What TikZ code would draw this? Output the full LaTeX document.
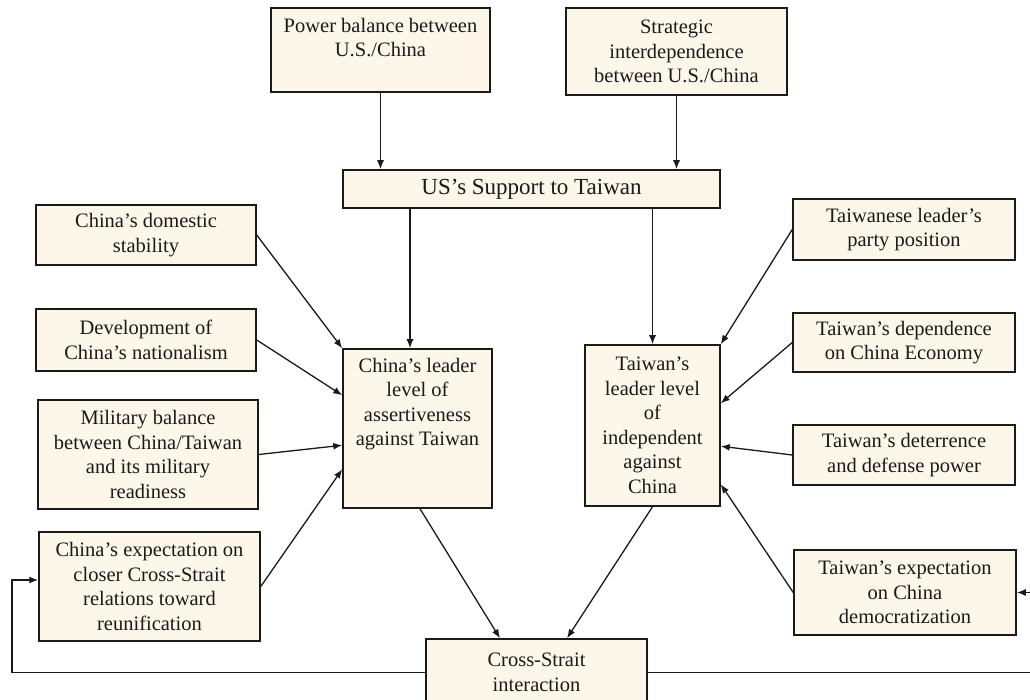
\documentclass[tikz,border=0pt]{standalone}
\usepackage{fontspec}
\setmainfont{Liberation Serif}
\usetikzlibrary{arrows.meta,calc}
\definecolor{boxfill}{HTML}{FDF7E9}
\definecolor{ink}{HTML}{1A1A1A}
\begin{document}
\begin{tikzpicture}[x=1pt,y=-1pt,
  bx/.style={draw=ink, line width=1.5pt, fill=boxfill, inner sep=0pt, align=center, text=ink,
             font=\fontsize{20.5}{24.5}\selectfont},
  arr/.style={draw=ink, line width=1.3pt, -{Latex[length=9pt,width=7pt]}},
  ln/.style={draw=ink, line width=1.3pt}]
\useasboundingbox (0,0) rectangle (1030,700);
\clip (0,0) rectangle (1030,700);
\fill[white] (0,0) rectangle (1030,700);

% top boxes
\node[bx, minimum width=219pt, minimum height=84pt] (pb) at (380.5,50)
  {\parbox[c][84pt][t]{219pt}{\vspace*{10pt}\centering Power balance between\\U.S./China}};
\node[bx, minimum width=221pt, minimum height=87pt] (si) at (676.5,51.5)
  {Strategic\\interdependence\\between U.S./China};
\node[bx, minimum width=377pt, minimum height=38pt, font=\fontsize{23}{27}\selectfont] (us) at (531.5,189)
  {US’s Support to Taiwan};

% left column
\node[bx, minimum width=220pt, minimum height=60pt] (dom) at (146,235)
  {China’s domestic\\stability};
\node[bx, minimum width=220pt, minimum height=62pt] (dev) at (146,340)
  {Development of\\China’s nationalism};
\node[bx, minimum width=220pt, minimum height=109pt] (mil) at (148,454.5)
  {Military balance\\between China/Taiwan\\and its military\\readiness};
\node[bx, minimum width=221pt, minimum height=109pt] (exp) at (149.5,586.5)
  {China’s expectation on\\closer Cross-Strait\\relations toward\\reunification};

% center
\node[bx, minimum width=149pt, minimum height=159pt] (cl) at (417.5,428.5)
  {\parbox[c][159pt][t]{149pt}{\vspace*{9pt}\centering China’s leader\\level of\\assertiveness\\against Taiwan}};
\node[bx, minimum width=135pt, minimum height=161pt] (tl) at (652.5,425.5)
  {Taiwan’s\\leader level\\of\\independent\\against\\China};
\node[bx, minimum width=221pt, minimum height=67pt] (cs) at (536.5,672.5)
  {Cross-Strait\\interaction};

% right column
\node[bx, minimum width=222pt, minimum height=61pt] (par) at (904,229.5)
  {Taiwanese leader’s\\party position};
\node[bx, minimum width=222pt, minimum height=59pt] (dep) at (904,342.5)
  {Taiwan’s dependence\\on China Economy};
\node[bx, minimum width=222pt, minimum height=60pt] (det) at (904,455)
  {Taiwan’s deterrence\\and defense power};
\node[bx, minimum width=222pt, minimum height=85pt] (tex) at (905,592.5)
  {Taiwan’s expectation\\on China\\democratization};

\coordinate (lx) at (12,0);
\coordinate (rx) at (1045,0);

% connectors
\draw[arr] (pb.south) -- (pb.south |- us.north);
\draw[arr] (si.south) -- (si.south |- us.north);
\coordinate (clin) at ([xshift=-7.5pt]cl.north);
\draw[arr] (clin |- us.south) -- (clin);
\draw[arr] (tl.north |- us.south) -- (tl.north);

\draw[arr] (dom.east) -- (cl.north west);
\draw[arr] (dev.east) -- ([yshift=-47pt]cl.north west);
\draw[arr] (mil.east) -- ([yshift=-97pt]cl.north west);
\draw[arr] (exp.east) -- ([yshift=-121pt]cl.north west);

\draw[arr] (par.west) -- (tl.north east);
\draw[arr] (dep.west) -- ([yshift=-59pt]tl.north east);
\draw[arr] (det.west) -- ([yshift=-102pt]tl.north east);
\draw[arr] (tex.west) -- ([yshift=-140pt]tl.north east);

\draw[arr] ([xshift=2.5pt]cl.south) -- ([xshift=-36.5pt]cs.north);
\draw[arr] (tl.south) -- ([xshift=30.5pt]cs.north);

\draw[arr] (cs.west) -- (cs.west -| lx) |- ([yshift=6.5pt]exp.west);
\draw[arr] (cs.east) -- (cs.east -| rx) |- (tex.east);
\end{tikzpicture}
\end{document}
